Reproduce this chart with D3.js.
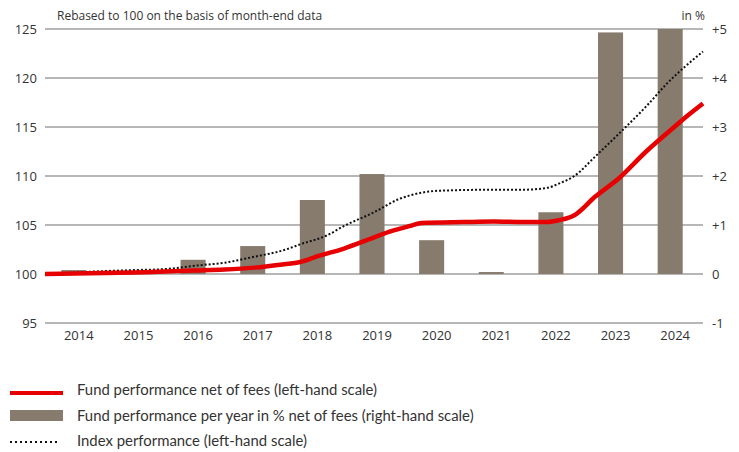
<!DOCTYPE html>
<html>
<head>
<meta charset="utf-8">
<script src="https://cdn.jsdelivr.net/npm/d3@7"></script>
<style>
  body { margin: 0; background: #fff; }
  svg text { font-family: "Open Sans", "DejaVu Sans", sans-serif; fill: #333; }
  svg text.leg { font-family: Lato, "Open Sans", sans-serif; }
</style>
</head>
<body>
<svg class="chart" width="739" height="452"></svg>
<script>
// data
let years = ['2014','2015','2016','2017','2018','2019','2020','2021','2022','2023','2024'];
let yearlyPerf = [0.08, 0.02, 0.29, 0.57, 1.51, 2.04, 0.69, 0.04, 1.26, 4.93, 5.0]; // % net of fees, right scale

// fund performance (rebased to 100), decimal year -> value
let fundT = [2014.0, 2014.5, 2015.0, 2015.5, 2016.0, 2016.5, 2017.0, 2017.5, 2018.0, 2018.25, 2018.6, 2019.0, 2019.4, 2019.75, 2020.1, 2020.3, 2021.0, 2021.5, 2022.0, 2022.4, 2022.6, 2022.85, 2023.2, 2023.6, 2024.05, 2024.5, 2024.75, 2025.0];
let fundV = [100.0, 100.05, 100.1, 100.15, 100.25, 100.35, 100.45, 100.65, 101.0, 101.2, 101.9, 102.6, 103.5, 104.3, 104.9, 105.2, 105.3, 105.35, 105.3, 105.3, 105.5, 106.0, 107.9, 109.8, 112.5, 114.9, 116.2, 117.4];

// index performance (rebased to 100)
let indexT = [2014.0, 2014.5, 2015.0, 2015.5, 2016.0, 2016.6, 2017.0, 2017.45, 2018.0, 2018.3, 2018.7, 2019.0, 2019.5, 2019.9, 2020.3, 2020.6, 2021.5, 2022.0, 2022.4, 2022.6, 2022.85, 2023.2, 2023.6, 2024.05, 2024.4, 2025.0];
let indexV = [100.0, 100.15, 100.3, 100.4, 100.5, 100.9, 101.15, 101.7, 102.45, 103.1, 103.9, 104.9, 106.3, 107.6, 108.3, 108.5, 108.6, 108.6, 108.8, 109.25, 110.0, 112.0, 114.35, 117.1, 119.45, 122.7];

let leftTicks = [95, 100, 105, 110, 115, 120, 125];
let rightTicks = [-1, 0, 1, 2, 3, 4, 5];

let legendItems = [
  {label: 'Fund performance net of fees (left-hand scale)', type: 'line'},
  {label: 'Fund performance per year in % net of fees (right-hand scale)', type: 'bar'},
  {label: 'Index performance (left-hand scale)', type: 'dots'}
];

// layout
let plotL = 45, plotR = 703, plotT = 29, plotB = 323;
let red = '#e60000', barCol = '#877b6e', gridCol = '#707070';

let svg = d3.select('svg.chart');

// scales
let xTime = d3.scaleLinear().domain([2014, 2025]).range([plotL, plotR]);
let xBand = d3.scaleBand().domain(years).range([44, 700]).paddingInner(0.58).paddingOuter(0.29);
let yLeft = d3.scaleLinear().domain([95, 125]).range([plotB, plotT]);
let yRight = d3.scaleLinear().domain([-1, 5]).range([plotB, plotT]);

// gridlines
svg.append('g')
  .selectAll('line')
  .data(leftTicks)
  .enter()
  .append('line')
  .attr('x1', plotL)
  .attr('x2', plotR)
  .attr('y1', d => yLeft(d))
  .attr('y2', d => yLeft(d))
  .style('stroke', gridCol)
  .style('stroke-width', 1.2);

// left axis labels
svg.append('g')
  .selectAll('text')
  .data(leftTicks)
  .enter()
  .append('text')
  .attr('x', 37)
  .attr('y', d => yLeft(d))
  .attr('dy', '0.35em')
  .attr('text-anchor', 'end')
  .style('font-size', '13px')
  .text(d => d);

// right axis labels
svg.append('g')
  .selectAll('text')
  .data(rightTicks)
  .enter()
  .append('text')
  .attr('x', 712)
  .attr('y', d => yRight(d))
  .attr('dy', '0.35em')
  .style('font-size', '13px')
  .text(d => d > 0 ? '+' + d : d);

// x labels (a little right of the bars, as in the source)
svg.append('g')
  .selectAll('text')
  .data(years)
  .enter()
  .append('text')
  .attr('x', d => xBand(d) + xBand.bandwidth() / 2 + 5)
  .attr('y', 340)
  .attr('text-anchor', 'middle')
  .style('font-size', '13px')
  .text(d => d);

// captions
svg.append('text')
  .attr('x', 57).attr('y', 20)
  .style('font-size', '12px')
  .text('Rebased to 100 on the basis of month-end data');
svg.append('text')
  .attr('x', 705).attr('y', 20)
  .attr('text-anchor', 'end')
  .style('font-size', '12px')
  .text('in %');

// bars
svg.append('g')
  .selectAll('rect')
  .data(years)
  .enter()
  .append('rect')
  .attr('x', d => xBand(d))
  .attr('width', xBand.bandwidth())
  .attr('y', (d, i) => yRight(Math.max(0, yearlyPerf[i])))
  .attr('height', (d, i) => Math.abs(yRight(yearlyPerf[i]) - yRight(0)))
  .style('fill', barCol);

// lines
let lineGen = d3.line()
  .x(d => xTime(d[0]))
  .y(d => yLeft(d[1]))
  .curve(d3.curveMonotoneX);

let indexData = indexT.map((t, i) => [t, indexV[i]]);
let fundData = fundT.map((t, i) => [t, fundV[i]]);

svg.append('path')
  .attr('d', lineGen(indexData))
  .style('fill', 'none')
  .style('stroke', '#111')
  .style('stroke-width', 2)
  .style('stroke-dasharray', '2,2');

svg.append('path')
  .attr('d', lineGen(fundData))
  .style('fill', 'none')
  .style('stroke', red)
  .style('stroke-width', 4.5)
  .style('stroke-linejoin', 'round');

// legend
let legend = svg.append('g');
let legY = [390, 416, 441];
legendItems.forEach((item, i) => {
  let y = legY[i];
  if (item.type == 'line') {
    legend.append('line')
      .attr('x1', 10).attr('x2', 63).attr('y1', y + 3).attr('y2', y + 3)
      .style('stroke', red).style('stroke-width', 4);
  } else if (item.type == 'bar') {
    legend.append('rect')
      .attr('x', 10).attr('y', y - 6).attr('width', 53).attr('height', 11)
      .style('fill', barCol);
  } else {
    legend.append('line')
      .attr('x1', 10).attr('x2', 60).attr('y1', y + 1).attr('y2', y + 1)
      .style('stroke', '#111').style('stroke-width', 2)
      .style('stroke-dasharray', '2,3');
  }
  legend.append('text')
    .attr('class', 'leg')
    .attr('x', 77).attr('y', y)
    .attr('dy', '0.35em')
    .style('font-size', '14.9px')
    .text(item.label);
});
</script>
</body>
</html>
